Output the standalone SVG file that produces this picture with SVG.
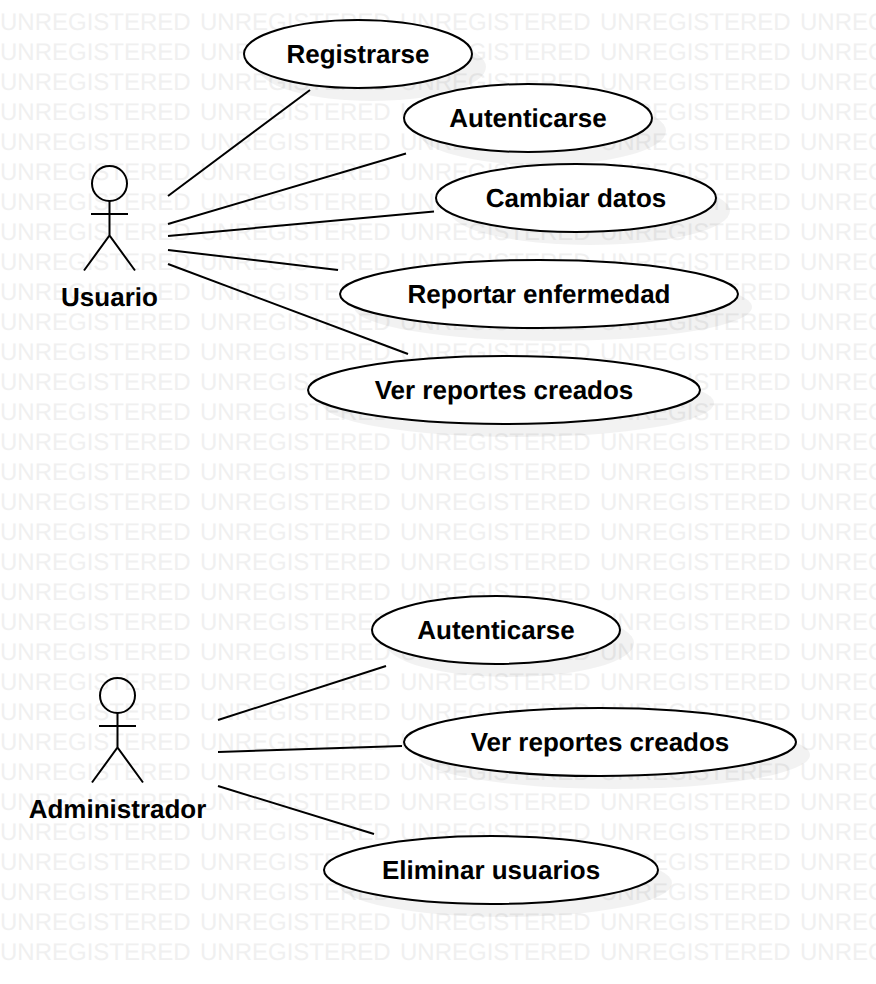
<svg xmlns="http://www.w3.org/2000/svg" xmlns:xlink="http://www.w3.org/1999/xlink" width="876" height="984" viewBox="0 0 876 984">
<style>
text{font-family:"Liberation Sans",Arial,sans-serif;text-rendering:geometricPrecision}
.wm{font-size:24px;fill:#f0f0f0}
.lbl{font-size:26px;font-weight:bold;fill:#000;text-anchor:middle}
.uc{fill:#fff;stroke:#000;stroke-width:2}
.sh{fill:#000;fill-opacity:.05}
.ln{fill:none;stroke:#000;stroke-width:2}
</style>
<defs>
<g id="wmrow"><text class="wm" x="0" y="0">UNREGISTERED</text><text class="wm" x="200" y="0">UNREGISTERED</text><text class="wm" x="400" y="0">UNREGISTERED</text><text class="wm" x="600" y="0">UNREGISTERED</text><text class="wm" x="800" y="0">UNREGISTERED</text></g>
<g id="actor"><circle class="ln" cx="0" cy="0" r="17.5"/><path class="ln" d="M0 17.5V52M-18.5 30.5H18.5M-25.5 87L0 52L25.5 87"/></g>
</defs>
<rect width="876" height="984" fill="#fff"/>
<g id="watermark">
<use xlink:href="#wmrow" y="30"/><use xlink:href="#wmrow" y="60"/><use xlink:href="#wmrow" y="90"/><use xlink:href="#wmrow" y="120"/><use xlink:href="#wmrow" y="150"/><use xlink:href="#wmrow" y="180"/><use xlink:href="#wmrow" y="210"/><use xlink:href="#wmrow" y="240"/><use xlink:href="#wmrow" y="270"/><use xlink:href="#wmrow" y="300"/><use xlink:href="#wmrow" y="330"/><use xlink:href="#wmrow" y="360"/><use xlink:href="#wmrow" y="390"/><use xlink:href="#wmrow" y="420"/><use xlink:href="#wmrow" y="450"/><use xlink:href="#wmrow" y="480"/><use xlink:href="#wmrow" y="510"/><use xlink:href="#wmrow" y="540"/><use xlink:href="#wmrow" y="570"/><use xlink:href="#wmrow" y="600"/><use xlink:href="#wmrow" y="630"/><use xlink:href="#wmrow" y="660"/><use xlink:href="#wmrow" y="690"/><use xlink:href="#wmrow" y="720"/><use xlink:href="#wmrow" y="750"/><use xlink:href="#wmrow" y="780"/><use xlink:href="#wmrow" y="810"/><use xlink:href="#wmrow" y="840"/><use xlink:href="#wmrow" y="870"/><use xlink:href="#wmrow" y="900"/><use xlink:href="#wmrow" y="930"/><use xlink:href="#wmrow" y="960"/>
</g>
<g id="connectors">
<line class="ln" x1="168" y1="196" x2="310" y2="90"/>
<line class="ln" x1="168" y1="224" x2="406" y2="153.5"/>
<line class="ln" x1="168" y1="236" x2="434" y2="211.5"/>
<line class="ln" x1="168" y1="250" x2="338" y2="270"/>
<line class="ln" x1="168" y1="264" x2="408" y2="354"/>
<line class="ln" x1="218" y1="720" x2="386" y2="666"/>
<line class="ln" x1="218" y1="752" x2="402" y2="746"/>
<line class="ln" x1="218" y1="786" x2="374" y2="834"/>
</g>
<g id="actor-usuario"><use xlink:href="#actor" x="109.5" y="183.5"/><text class="lbl" x="109.5" y="306">Usuario</text></g>
<g id="uc-registrarse"><ellipse class="sh" cx="372" cy="67" rx="114" ry="34"/><ellipse class="uc" cx="358" cy="54" rx="114" ry="34"/><text class="lbl" x="358" y="63">Registrarse</text></g>
<g id="uc-autenticarse-1"><ellipse class="sh" cx="542" cy="131" rx="124" ry="34"/><ellipse class="uc" cx="528" cy="118" rx="124" ry="34"/><text class="lbl" x="528" y="127">Autenticarse</text></g>
<g id="uc-cambiar"><ellipse class="sh" cx="590" cy="211" rx="140" ry="34"/><ellipse class="uc" cx="576" cy="198" rx="140" ry="34"/><text class="lbl" x="576" y="207">Cambiar datos</text></g>
<g id="uc-reportar"><ellipse class="sh" cx="553" cy="307" rx="199" ry="34"/><ellipse class="uc" cx="539" cy="294" rx="199" ry="34"/><text class="lbl" x="539" y="303">Reportar enfermedad</text></g>
<g id="uc-ver-1"><ellipse class="sh" cx="518" cy="403" rx="196" ry="34"/><ellipse class="uc" cx="504" cy="390" rx="196" ry="34"/><text class="lbl" x="504" y="399">Ver reportes creados</text></g>
<g id="actor-admin"><use xlink:href="#actor" x="117.5" y="695.5"/><text class="lbl" x="117.5" y="818">Administrador</text></g>
<g id="uc-autenticarse-2"><ellipse class="sh" cx="510" cy="643" rx="124" ry="34"/><ellipse class="uc" cx="496" cy="630" rx="124" ry="34"/><text class="lbl" x="496" y="639">Autenticarse</text></g>
<g id="uc-ver-2"><ellipse class="sh" cx="614" cy="755" rx="196" ry="34"/><ellipse class="uc" cx="600" cy="742" rx="196" ry="34"/><text class="lbl" x="600" y="751">Ver reportes creados</text></g>
<g id="uc-eliminar"><ellipse class="sh" cx="505" cy="883" rx="167" ry="34"/><ellipse class="uc" cx="491" cy="870" rx="167" ry="34"/><text class="lbl" x="491" y="879">Eliminar usuarios</text></g>
</svg>
